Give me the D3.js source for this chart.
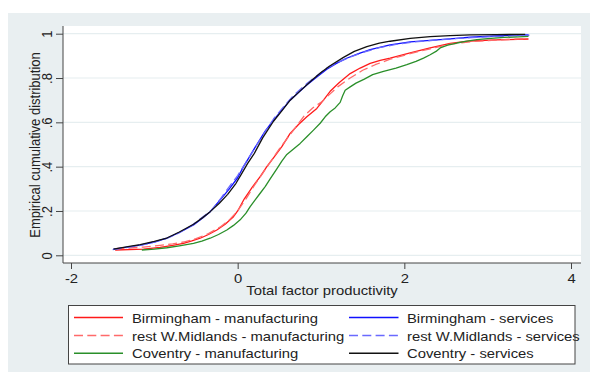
<!DOCTYPE html>
<html>
<head>
<meta charset="utf-8">
<script src="https://cdn.jsdelivr.net/npm/d3@7/dist/d3.min.js"></script>
<style>
  html, body { margin: 0; padding: 0; background: #ffffff; }
  svg { display: block; }
  text { font-family: "Liberation Sans", Arial, sans-serif; fill: #222; }
</style>
</head>
<body>
<div id="chart"></div>
<script>
// Empirical CDFs of total factor productivity, by area and sector

// Birmingham - services
const tfpBirmServ = [-1.49,-1.3,-1.17,-1.0,-0.85,-0.7,-0.53,-0.42,-0.33,-0.21,-0.1,0.0,0.07,0.15,0.23,0.33,0.43,0.53,0.63,0.73,0.83,0.95,1.07,1.18,1.3,1.45,1.59,1.83,2.07,2.31,2.55,2.79,3.1,3.43,3.49];
const cdfBirmServ = [0.028,0.038,0.046,0.06,0.077,0.103,0.137,0.168,0.197,0.25,0.30,0.35,0.40,0.45,0.50,0.56,0.61,0.655,0.70,0.735,0.768,0.805,0.84,0.865,0.888,0.91,0.928,0.95,0.963,0.97,0.977,0.984,0.99,0.995,0.995];

// Coventry - services
const tfpCovServ = [-1.49,-1.3,-1.17,-1.0,-0.85,-0.7,-0.53,-0.42,-0.33,-0.22,-0.12,-0.02,0.05,0.12,0.2,0.3,0.43,0.53,0.63,0.75,0.91,1.0,1.1,1.27,1.4,1.55,1.7,1.83,2.07,2.31,2.55,2.79,3.1,3.45];
const cdfCovServ = [0.028,0.04,0.048,0.063,0.078,0.105,0.14,0.17,0.197,0.235,0.275,0.325,0.37,0.415,0.46,0.53,0.605,0.652,0.70,0.742,0.797,0.825,0.853,0.893,0.92,0.942,0.957,0.966,0.979,0.987,0.991,0.995,0.996,0.997];

// rest W.Midlands - services
const tfpRestServ = [-1.5,-1.3,-1.15,-1.0,-0.85,-0.7,-0.55,-0.4,-0.3,-0.2,-0.1,0.0,0.1,0.2,0.3,0.43,0.55,0.68,0.83,0.95,1.07,1.2,1.35,1.5,1.7,1.9,2.1,2.4,2.7,3.0,3.3,3.5];
const cdfRestServ = [0.026,0.037,0.046,0.06,0.076,0.102,0.135,0.178,0.208,0.258,0.31,0.36,0.42,0.48,0.54,0.615,0.67,0.725,0.775,0.81,0.845,0.87,0.895,0.915,0.937,0.952,0.962,0.972,0.98,0.986,0.99,0.993];

// Birmingham - manufacturing
const tfpBirmManu = [-1.47,-1.3,-1.13,-0.93,-0.78,-0.65,-0.55,-0.45,-0.35,-0.25,-0.15,-0.05,0.0,0.08,0.18,0.27,0.35,0.45,0.53,0.63,0.73,0.83,0.95,1.03,1.11,1.22,1.35,1.47,1.59,1.71,1.83,2.07,2.31,2.55,2.79,3.1,3.49];
const cdfBirmManu = [0.024,0.026,0.028,0.036,0.045,0.054,0.065,0.077,0.094,0.114,0.14,0.174,0.20,0.255,0.31,0.355,0.40,0.45,0.49,0.55,0.59,0.625,0.663,0.70,0.74,0.78,0.82,0.845,0.866,0.88,0.89,0.913,0.936,0.956,0.967,0.972,0.976];

// rest W.Midlands - manufacturing
const tfpRestManu = [-1.47,-1.3,-1.13,-0.93,-0.78,-0.65,-0.5,-0.35,-0.2,-0.1,0.0,0.1,0.2,0.3,0.4,0.5,0.6,0.7,0.8,0.9,1.0,1.1,1.2,1.35,1.5,1.65,1.83,2.07,2.31,2.55,2.8,3.1,3.47];
const cdfRestManu = [0.03,0.033,0.037,0.045,0.052,0.06,0.075,0.098,0.13,0.16,0.2,0.255,0.315,0.37,0.425,0.48,0.53,0.58,0.63,0.665,0.69,0.725,0.76,0.80,0.835,0.86,0.885,0.91,0.932,0.953,0.964,0.971,0.978];

// Coventry - manufacturing
const tfpCovManu = [-1.15,-1.0,-0.85,-0.7,-0.53,-0.43,-0.33,-0.23,-0.13,-0.05,0.03,0.1,0.15,0.21,0.27,0.33,0.39,0.47,0.53,0.59,0.67,0.75,0.83,0.91,0.99,1.05,1.11,1.17,1.23,1.26,1.29,1.35,1.42,1.52,1.62,1.75,1.9,2.03,2.14,2.23,2.31,2.38,2.43,2.52,2.63,2.75,2.87,3.0,3.2,3.49];
const cdfCovManu = [0.024,0.028,0.034,0.043,0.054,0.064,0.077,0.094,0.114,0.135,0.16,0.19,0.22,0.25,0.28,0.31,0.345,0.39,0.425,0.455,0.48,0.505,0.535,0.565,0.596,0.625,0.648,0.665,0.69,0.72,0.745,0.76,0.777,0.795,0.815,0.83,0.845,0.86,0.875,0.89,0.905,0.92,0.936,0.948,0.958,0.966,0.973,0.978,0.983,0.988];

// Axis ticks
const xTicks = [-2, 0, 2, 4];
const xTickLabels = ["-2", "0", "2", "4"];
const yTicks = [0, 0.2, 0.4, 0.6, 0.8, 1];
const yTickLabels = ["0", ".2", ".4", ".6", ".8", "1"];

// Series, in plotting / legend order (legend fills row by row, two columns)
const seriesNames = [
  "Birmingham - manufacturing", "Birmingham - services",
  "rest W.Midlands - manufacturing", "rest W.Midlands - services",
  "Coventry - manufacturing", "Coventry - services"
];
const seriesX = [tfpBirmManu, tfpBirmServ, tfpRestManu, tfpRestServ, tfpCovManu, tfpCovServ];
const seriesY = [cdfBirmManu, cdfBirmServ, cdfRestManu, cdfRestServ, cdfCovManu, cdfCovServ];
const seriesColors = ["#ff1a1a", "#1010ff", "#ff6a6a", "#6a6aff", "#2a8f2a", "#111111"];
const seriesDash = [null, null, "9,4.3", "9,4.3", null, null];

// ---- layout ----
const W = 590, H = 372;
const SX = 1.14;               // horizontal stretch applied to text
const plot = { left: 63, right: 581, top: 26, bottom: 263 };

const svg = d3.select("#chart").append("svg")
  .attr("width", W).attr("height", H);

// graph region
svg.append("rect").attr("x", 8).attr("y", 13).attr("width", W - 8).attr("height", H - 13)
  .attr("fill", "#e9eff1");
// plot region
svg.append("rect")
  .attr("x", plot.left).attr("y", plot.top)
  .attr("width", plot.right - plot.left).attr("height", plot.bottom - plot.top)
  .attr("fill", "#ffffff");

const x = d3.scaleLinear().domain([-2, 4]).range([71, 571]);
const y = d3.scaleLinear().domain([0, 1]).range([255.3, 33.7]);

// gridlines
svg.append("g").selectAll("line").data(yTicks).join("line")
  .attr("x1", plot.left).attr("x2", plot.right)
  .attr("y1", d => y(d)).attr("y2", d => y(d))
  .attr("stroke", "#e6eef0").attr("stroke-width", 1.2);

// y axis
const yAxis = svg.append("g").attr("transform", `translate(${plot.left},0)`)
  .call(d3.axisLeft(y).tickValues(yTicks)
    .tickFormat((d, i) => yTickLabels[i]).tickSize(7).tickSizeOuter(0));
yAxis.select(".domain").remove();
yAxis.selectAll(".tick line").attr("stroke", "#444");
yAxis.selectAll(".tick text")
  .attr("x", null).attr("dy", null)
  .attr("transform", `translate(-11,0) scale(${SX},1) rotate(-90)`)
  .attr("text-anchor", "middle")
  .style("font-size", "13px").style("font-family", "Liberation Sans, Arial, sans-serif")
  .attr("fill", "#222");

// x axis
const xAxis = svg.append("g").attr("transform", `translate(0,${plot.bottom})`)
  .call(d3.axisBottom(x).tickValues(xTicks)
    .tickFormat((d, i) => xTickLabels[i]).tickSize(6).tickSizeOuter(0));
xAxis.select(".domain").remove();
xAxis.selectAll(".tick line").attr("stroke", "#444");
xAxis.selectAll(".tick text")
  .attr("y", null).attr("dy", null)
  .attr("transform", `translate(0,20) scale(${SX},1)`)
  .attr("text-anchor", "middle")
  .style("font-size", "13px").style("font-family", "Liberation Sans, Arial, sans-serif")
  .attr("fill", "#222");

// axis lines
svg.append("line").attr("x1", plot.left).attr("x2", plot.left)
  .attr("y1", plot.top).attr("y2", plot.bottom).attr("stroke", "#444");
svg.append("line").attr("x1", plot.left).attr("x2", plot.right)
  .attr("y1", plot.bottom).attr("y2", plot.bottom).attr("stroke", "#444");

// axis titles
svg.append("text")
  .attr("transform", `translate(322,295) scale(${SX},1)`)
  .attr("text-anchor", "middle").style("font-size", "13px")
  .text("Total factor productivity");
svg.append("text")
  .attr("transform", `translate(39.5,145) scale(${SX},1) rotate(-90)`)
  .attr("text-anchor", "middle").style("font-size", "13px")
  .text("Empirical cumulative distribution");

// curves
const line = d3.line().x(d => x(d[0])).y(d => y(d[1]));
seriesNames.forEach((name, i) => {
  const pts = seriesX[i].map((v, j) => [v, seriesY[i][j]]);
  svg.append("path")
    .attr("d", line(pts))
    .attr("fill", "none")
    .attr("stroke", seriesColors[i])
    .attr("stroke-width", 1.3)
    .attr("stroke-dasharray", seriesDash[i])
    .attr("stroke-linejoin", "round");
});

// legend
const lg = svg.append("g");
lg.append("rect").attr("x", 68.5).attr("y", 305.5).attr("width", 506.5).attr("height", 58.5)
  .attr("fill", "#ffffff").attr("stroke", "#444").attr("stroke-width", 1);
const rowY = [317.5, 335.5, 353.3];
const colLine = [[74, 123], [349, 398.5]];
const colText = [132, 407];
seriesNames.forEach((name, i) => {
  const r = Math.floor(i / 2), c = i % 2;
  lg.append("line")
    .attr("x1", colLine[c][0]).attr("x2", colLine[c][1])
    .attr("y1", rowY[r]).attr("y2", rowY[r])
    .attr("stroke", seriesColors[i]).attr("stroke-width", 1.4)
    .attr("stroke-dasharray", seriesDash[i]);
  lg.append("text")
    .attr("transform", `translate(${colText[c]},${rowY[r] + 5}) scale(${SX},1)`)
    .style("font-size", "13px")
    .text(name);
});
</script>
</body>
</html>
